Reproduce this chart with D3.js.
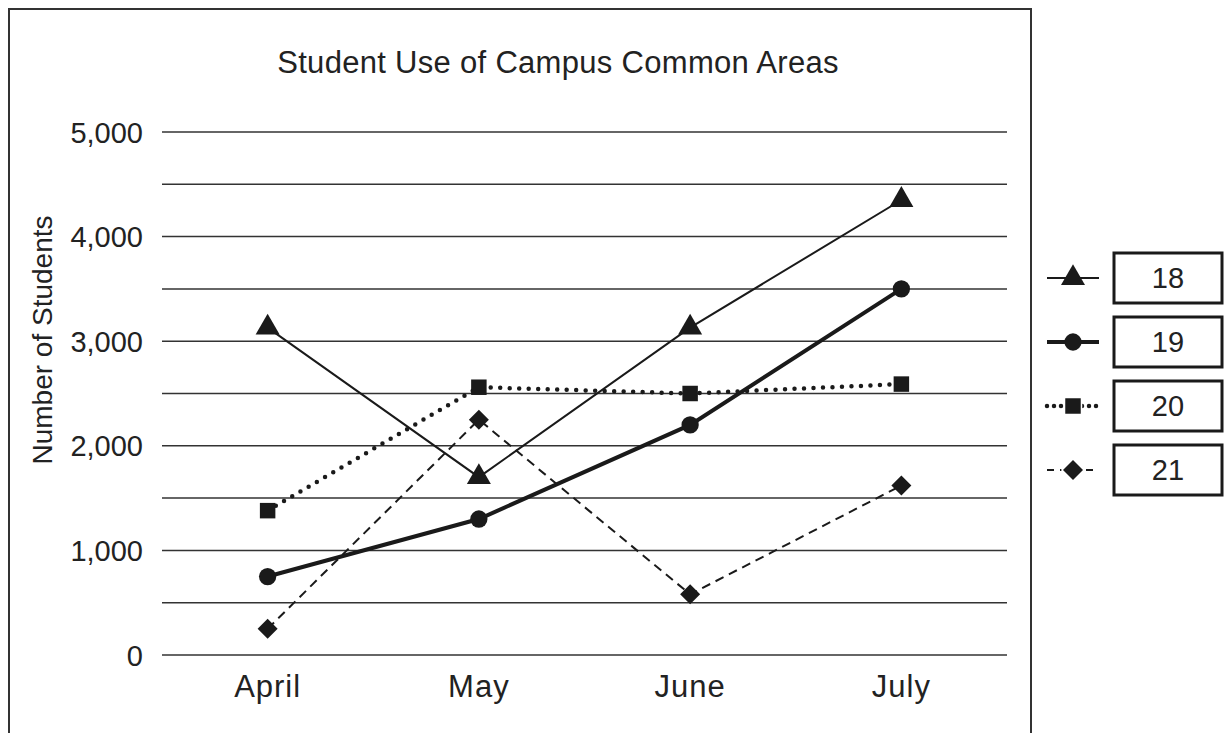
<!DOCTYPE html>
<html>
<head>
<meta charset="utf-8">
<script src="https://cdn.jsdelivr.net/npm/d3@7"></script>
<style>
  body { margin: 0; background: #fff; }
  text { font-family: "Liberation Sans", Arial, sans-serif; fill: #222; }
</style>
</head>
<body>
<script>
var months = ["April", "May", "June", "July"];
var seriesNames = ["18", "19", "20", "21"];
var values18 = [3130, 1700, 3130, 4350];
var values19 = [750, 1300, 2200, 3500];
var values20 = [1380, 2560, 2500, 2590];
var values21 = [250, 2250, 580, 1620];
var yTicks = [0, 1000, 2000, 3000, 4000, 5000];

var width = 1228;
var height = 733;
var margin = { top: 132, left: 162, right: 221, bottom: 78 };

var svg = d3.select("body")
    .append("svg")
    .attr("width", width)
    .attr("height", height);

// outer frame (open at the bottom, runs off the picture)
svg.append("path")
    .attr("d", "M9,740 V9 H1031 V740")
    .attr("fill", "none")
    .attr("stroke", "#333")
    .attr("stroke-width", 2);

var xScale = d3.scaleBand()
    .domain(months)
    .range([margin.left, width - margin.right]);

var yScale = d3.scaleLinear()
    .domain([0, 5000])
    .range([height - margin.bottom, margin.top]);

// grid lines every 500
svg.append("g")
    .selectAll("line")
    .data(d3.range(0, 5001, 500))
    .join("line")
    .attr("x1", margin.left)
    .attr("x2", width - margin.right)
    .attr("y1", function(d) { return yScale(d); })
    .attr("y2", function(d) { return yScale(d); })
    .attr("stroke", "#333")
    .attr("stroke-width", 1.5);

var yAxis = svg.append("g")
    .attr("transform", `translate(${margin.left - 16},0)`)
    .call(d3.axisLeft(yScale).tickValues(yTicks).tickSize(0).tickFormat(d3.format(",")));
yAxis.select(".domain").remove();
yAxis.selectAll("text").style("font-size", "29px").attr("dy", "0.35em");

var xAxis = svg.append("g")
    .attr("transform", `translate(0,${yScale(0) + 42})`)
    .call(d3.axisBottom(xScale).tickSize(0));
xAxis.select(".domain").remove();
xAxis.selectAll("text")
    .style("font-size", "31px")
    .style("letter-spacing", "1px")
    .attr("y", 0)
    .attr("dy", 0);

svg.append("text")
    .attr("x", 558)
    .attr("y", 73)
    .attr("text-anchor", "middle")
    .style("font-size", "31px")
    .style("letter-spacing", "0.3px")
    .text("Student Use of Campus Common Areas");

svg.append("text")
    .attr("transform", "rotate(-90)")
    .attr("x", -340)
    .attr("y", 52)
    .attr("text-anchor", "middle")
    .style("font-size", "28px")
    .text("Number of Students");

var diamond = {
  draw: function(context, size) {
    var r = Math.sqrt(size / 2);
    context.moveTo(0, -r);
    context.lineTo(r, 0);
    context.lineTo(0, r);
    context.lineTo(-r, 0);
    context.closePath();
  }
};

var styles = [
  { values: values18, width: 2, dash: null, cap: "butt", symbol: d3.symbolTriangle, size: 250 },
  { values: values19, width: 4, dash: null, cap: "butt", symbol: d3.symbolCircle, size: 235 },
  { values: values20, width: 4.5, dash: "0 9.5", cap: "round", symbol: d3.symbolSquare, size: 240 },
  { values: values21, width: 2, dash: "9 6", cap: "butt", symbol: diamond, size: 200 }
];

var line = d3.line()
    .x(function(d, i) { return xScale(months[i]) + xScale.bandwidth() / 2; })
    .y(function(d) { return yScale(d); });

styles.forEach(function(s) {
  svg.append("path")
      .datum(s.values)
      .attr("fill", "none")
      .attr("stroke", "#1a1a1a")
      .attr("stroke-width", s.width)
      .attr("stroke-linecap", s.cap)
      .attr("stroke-dasharray", s.dash)
      .attr("d", line);

  svg.append("g")
      .selectAll("path")
      .data(s.values)
      .join("path")
      .attr("transform", function(d, i) {
        return `translate(${xScale(months[i]) + xScale.bandwidth() / 2},${yScale(d)})`;
      })
      .attr("d", d3.symbol().type(s.symbol).size(s.size))
      .attr("fill", "#1a1a1a");
});

// legend
var legend = svg.append("g")
    .selectAll("g")
    .data(seriesNames)
    .join("g")
    .attr("transform", function(d, i) { return `translate(0,${278 + i * 64})`; });

legend.append("line")
    .attr("x1", 1047)
    .attr("x2", 1099)
    .attr("stroke", "#1a1a1a")
    .attr("stroke-width", function(d, i) { return styles[i].width; })
    .attr("stroke-linecap", function(d, i) { return styles[i].cap; })
    .attr("stroke-dasharray", function(d, i) { return styles[i].dash ? (i === 2 ? "0 7" : "7 6") : null; });

legend.append("path")
    .attr("transform", "translate(1073,0)")
    .attr("d", function(d, i) { return d3.symbol().type(styles[i].symbol).size(styles[i].size)(); })
    .attr("fill", "#1a1a1a")
    .attr("stroke", "#fff")
    .attr("stroke-width", function(d, i) { return i >= 2 ? 3 : 0; })
    .attr("paint-order", "stroke");

legend.append("rect")
    .attr("x", 1114)
    .attr("y", -25)
    .attr("width", 108)
    .attr("height", 50)
    .attr("fill", "#fff")
    .attr("stroke", "#1a1a1a")
    .attr("stroke-width", 3);

legend.append("text")
    .attr("x", 1168)
    .attr("y", 0)
    .attr("dy", "0.36em")
    .attr("text-anchor", "middle")
    .style("font-size", "29px")
    .text(function(d) { return d; });
</script>
</body>
</html>
